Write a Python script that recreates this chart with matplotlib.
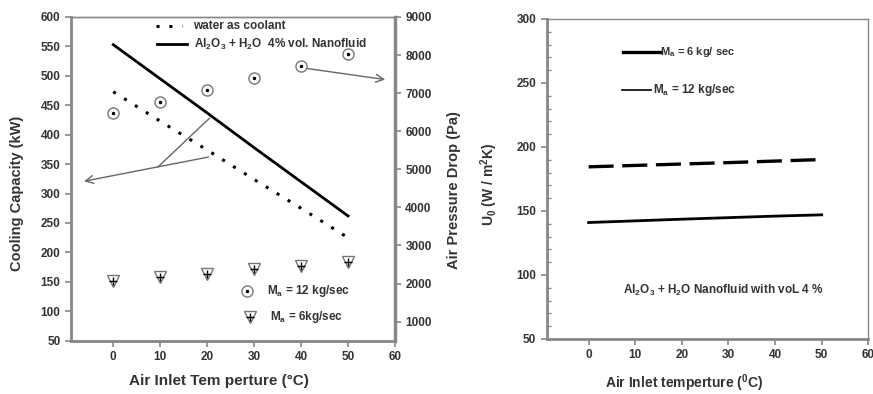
"""plot.py — cooling capacity / air pressure drop and U0 vs air inlet temperature -> out.png"""
import matplotlib
matplotlib.use("Agg")
import matplotlib.pyplot as plt

# ---- data ----
temp = [0, 10, 20, 30, 40, 50]
cap_water = [473, 423, 374, 324, 275, 225]
cap_nano = [553, 495, 437, 378, 320, 262]
dp_12 = [6470, 6780, 7080, 7400, 7710, 8020]
dp_6 = [2075, 2165, 2250, 2380, 2460, 2575]
u0_6 = [184.5, 185.6, 186.7, 187.8, 189.0, 190.2]
u0_12 = [141.0, 142.3, 143.6, 144.8, 146.0, 147.0]

x_ticks = [0, 10, 20, 30, 40, 50, 60]
cap_ticks = [50, 100, 150, 200, 250, 300, 350, 400, 450, 500, 550, 600]
dp_ticks = [1000, 2000, 3000, 4000, 5000, 6000, 7000, 8000, 9000]
u0_ticks = [50, 100, 150, 200, 250, 300]

plt.rcParams["font.family"] = ["Liberation Sans", "DejaVu Sans"]
plt.rcParams["font.weight"] = "bold"
plt.rcParams["axes.labelweight"] = "bold"
plt.rcParams["mathtext.fontset"] = "custom"
plt.rcParams["mathtext.rm"] = "Liberation Sans:bold"
plt.rcParams["mathtext.it"] = "Liberation Sans:bold"
plt.rcParams["mathtext.bf"] = "Liberation Sans:bold"
plt.rcParams["mathtext.default"] = "rm"

TXT = "#333333"
SP = "#888888"


def style_axes(ax, sides):
    for s in ax.spines.values():
        s.set_color(SP)
        s.set_linewidth(1.0)
    for s in sides:
        ax.spines[s].set_linewidth(2.0)
    ax.tick_params(colors=SP, labelcolor=TXT, labelsize=8.5, length=4, width=1.2)
    for lab in ax.get_xticklabels() + ax.get_yticklabels():
        lab.set_fontweight("bold")


fig = plt.figure(figsize=(8.73, 3.94), dpi=100)

# ---------- left panel ----------
ax = fig.add_axes([0.0813, 0.1353, 0.3711, 0.8216])
ax2 = ax.twinx()
ax.plot(temp, cap_water, color="black", lw=2.2, ls=(0, (1, 3.2)))
ax.plot(temp, cap_nano, color="black", lw=2.0)
ax.set_xlim(-9, 60)
ax.set_ylim(50, 600)
ax.set_xticks(x_ticks)
ax.set_yticks(cap_ticks)
ax.set_xlabel("Air Inlet Tem perture (°C)", fontsize=11, color=TXT)
ax.set_ylabel("Cooling Capacity (kW)", fontsize=10.5, color=TXT)
ax.xaxis.set_label_coords(0.457, -0.103)
ax.yaxis.set_label_coords(-0.145, 0.456)
style_axes(ax, ["left", "bottom"])

ax2.plot(temp, dp_12, ls="none", marker="o", ms=8, mfc="white", mec="#777777", mew=1.0)
ax2.plot(temp, dp_12, ls="none", marker=".", ms=3, color="black")
ax2.plot(temp, dp_6, ls="none", marker="v", ms=9, mfc="white", mec="#777777", mew=1.0)
ax2.plot(temp, dp_6, ls="none", marker="+", ms=6, color="black", mew=1.0)
ax2.set_ylim(500, 9000)
ax2.set_yticks(dp_ticks)
ax2.set_ylabel("Air Pressure Drop (Pa)", fontsize=10.5, color=TXT)
ax2.yaxis.set_label_coords(1.16, 0.466)
style_axes(ax2, ["right"])
ax2.spines["right"].set_linewidth(2.5)

# legend text (top)
ax.plot([9.2, 14.6], [584, 584], color="black", lw=2.2, ls=(0, (1, 3.2)))
ax.text(16.9, 584, "water as coolant", fontsize=8.5, va="center", color=TXT)
ax.plot([9.4, 15.8], [554, 554], color="black", lw=2.0)
ax.text(17.3, 554, "Al$_2$O$_3$ + H$_2$O  4% vol. Nanofluid", fontsize=8.5,
        va="center", color=TXT)

# legend text (bottom)
ax.plot([28.5], [134], marker="o", ms=8, mfc="white", mec="#777777", mew=1.0, ls="none")
ax.plot([28.5], [134], marker=".", ms=3, color="black", ls="none")
ax.text(32.8, 134, "M$_a$ = 12 kg/sec", fontsize=8.5, va="center", color=TXT)
ax.plot([29.2], [91], marker="v", ms=9, mfc="white", mec="#777777", mew=1.0, ls="none")
ax.plot([29.2], [91], marker="+", ms=6, color="black", mew=1.0, ls="none")
ax.text(33.3, 91, "M$_a$ = 6kg/sec", fontsize=8.5, va="center", color=TXT)

# arrows
arr = dict(arrowstyle="->", color="#666666", lw=1.0, mutation_scale=14)
ax.annotate("", xy=(-6.8, 320), xytext=(20.9, 363), arrowprops=arr)
ax.plot([20.5, 9.5], [428, 345], color="#666666", lw=1.0)
ax.annotate("", xy=(58.5, 493), xytext=(40.8, 513), arrowprops=arr)

# ---------- right panel ----------
bx = fig.add_axes([0.6262, 0.1396, 0.3684, 0.8122])
bx.plot(temp, u0_6, color="black", lw=2.4, ls=(0, (7.5, 2.6)))
bx.plot(temp, u0_12, color="black", lw=2.0)
bx.set_xlim(-9, 60)
bx.set_ylim(50, 300)
bx.set_xticks(x_ticks)
bx.set_yticks(u0_ticks)
bx.set_yticks(range(60, 300, 10), minor=True)
bx.set_xlabel("Air Inlet temperture ($^0$C)", fontsize=10, color=TXT)
bx.set_ylabel("U$_0$ (W / m$^2$K)", fontsize=10, color=TXT)
bx.xaxis.set_label_coords(0.427, -0.105)
bx.yaxis.set_label_coords(-0.145, 0.484)
style_axes(bx, ["left", "bottom"])
bx.tick_params(axis="y", which="minor", direction="in", length=3, colors=SP, width=1.0)

bx.plot([7.3, 15.5], [274, 274], color="black", lw=2.4)
bx.text(15.3, 274, "M$_a$ = 6 kg/ sec", fontsize=8, va="center", color=TXT)
bx.plot([7.2, 13.3], [244.5, 244.5], color="black", lw=1.2)
bx.text(13.9, 244.5, "M$_a$ = 12 kg/sec", fontsize=8.5, va="center", color=TXT)
bx.text(28.8, 88, "Al$_2$O$_3$ + H$_2$O Nanofluid with voL 4 %", fontsize=8.5,
        ha="center", va="center", color=TXT)

fig.savefig("out.png", dpi=100)
print("wrote out.png")
